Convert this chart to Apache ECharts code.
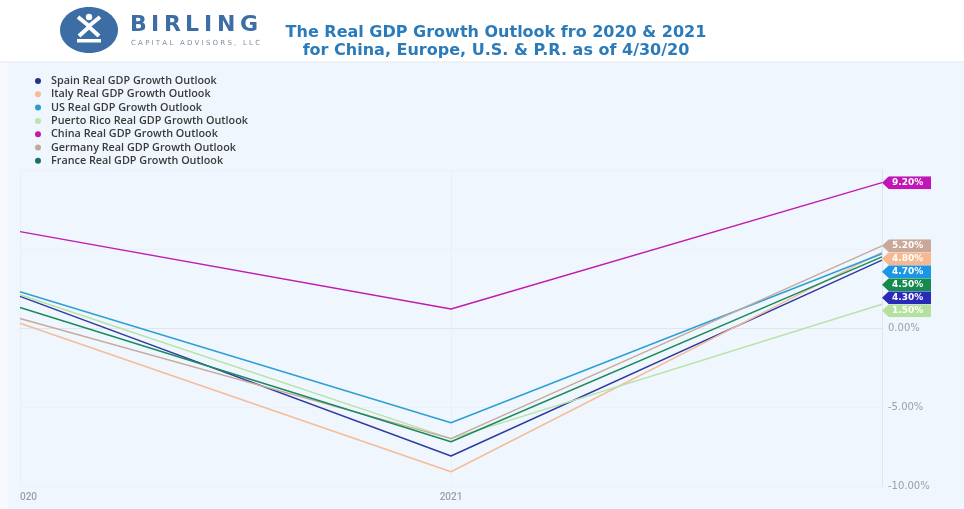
<!DOCTYPE html>
<html>
<head>
<meta charset="utf-8">
<script src="https://cdn.jsdelivr.net/npm/echarts@6/dist/echarts.min.js"></script>
<style>html,body{margin:0;padding:0;background:#fff;}#c{width:964px;height:509px;}</style>
</head>
<body>
<div id="c"></div>
<script>
const categories = ['2020', '2021', '2022'];
const xTickLabels = ['020', '2021', ''];
const seriesNames = [
  'Spain Real GDP Growth Outlook',
  'Italy Real GDP Growth Outlook',
  'US Real GDP Growth Outlook',
  'Puerto Rico Real GDP Growth Outlook',
  'China Real GDP Growth Outlook',
  'Germany Real GDP Growth Outlook',
  'France Real GDP Growth Outlook'
];
const spain = [2.0, -8.1, 4.3];
const italy = [0.3, -9.1, 4.8];
const us = [2.3, -6.0, 4.7];
const puertoRico = [2.1, -7.0, 1.5];
const china = [6.1, 1.2, 9.2];
const germany = [0.6, -7.0, 5.2];
const france = [1.3, -7.2, 4.5];
const seriesValues = [spain, italy, us, puertoRico, china, germany, france];
const lineColors = ['#2f3aa3', '#f6bb98', '#2b9fd6', '#b6e3a8', '#c01cb0', '#c6aa9c', '#1b8a5c'];
const legendColors = ['#26318f', '#f5bc94', '#2b9bd0', '#b7e4b0', '#c21aa7', '#c0a99c', '#1d6e66'];
const tagColors = ['#2a2ab8', '#f7b890', '#1a96e4', '#b4e29e', '#c016b8', '#c8a898', '#148a4e'];
const yTicks = { min: -10, max: 10, interval: 5 };

function tagImage(color) {
  const svg = '<svg xmlns="http://www.w3.org/2000/svg" width="50" height="13" viewBox="0 0 50 13" preserveAspectRatio="none">' +
    '<path d="M0 6.5 L7 0 L50 0 L50 13 L7 13 Z" fill="' + color + '"/></svg>';
  return 'data:image/svg+xml;charset=utf-8,' + encodeURIComponent(svg);
}

const chart = echarts.init(document.getElementById('c'), null, { renderer: 'canvas' });

const series = seriesNames.map((name, i) => ({
  name: name,
  type: 'line',
  data: seriesValues[i],
  symbol: 'none',
  smooth: false,
  lineStyle: { width: 1.5, color: lineColors[i] },
  itemStyle: { color: legendColors[i] },
  endLabel: {
    show: true,
    distance: 0,
    formatter: p => p.value.toFixed(2) + '%',
    color: '#fff',
    fontSize: 9,
    fontWeight: 'bold',
    fontFamily: 'DejaVu Sans',
    lineHeight: 11,
    width: 35,
    padding: [1, 4, 1, 10],
    backgroundColor: { image: tagImage(tagColors[i]) }
  },
  labelLayout: { moveOverlap: 'shiftY' },
  emphasis: { disabled: true },
  animation: false
}));

const option = {
  backgroundColor: '#f0f6fd',
  animation: false,
  title: {
    text: 'The Real GDP Growth Outlook fro 2020 & 2021\nfor China, Europe, U.S. & P.R. as of 4/30/20',
    left: 491,
    top: 19,
    textAlign: 'center',
    textStyle: {
      color: '#2b7bbb',
      fontSize: 16,
      fontWeight: 'bold',
      fontFamily: 'DejaVu Sans',
      lineHeight: 18
    }
  },
  legend: {
    orient: 'vertical',
    left: 30,
    top: 70,
    itemWidth: 6,
    itemHeight: 6,
    itemGap: 1.3,
    icon: 'circle',
    data: seriesNames,
    textStyle: { fontSize: 10.8, lineHeight: 12, color: '#3a3a3a', fontWeight: 600, fontFamily: 'Open Sans', padding: [0, 0, 0, 5] }
  },
  grid: { left: 20, right: 82, top: 170, bottom: 23, containLabel: false },
  xAxis: {
    type: 'category',
    data: categories,
    boundaryGap: false,
    axisLine: { show: true, lineStyle: { color: '#dfe6ee' } },
    axisTick: { show: false },
    splitLine: { show: true, lineStyle: { color: '#e9eff7' } },
    axisLabel: {
      color: '#9aa0a8',
      fontSize: 10,
      fontFamily: 'Roboto',
      fontWeight: 500,
      margin: 6,
      alignMinLabel: 'left',
      formatter: (v, idx) => xTickLabels[idx]
    }
  },
  yAxis: {
    type: 'value',
    position: 'right',
    min: yTicks.min,
    max: yTicks.max,
    interval: yTicks.interval,
    axisLine: { show: true, lineStyle: { color: '#dfe6ee' } },
    axisTick: { show: false },
    splitLine: { show: true, lineStyle: { color: '#ebf1f8' } },
    axisLabel: {
      color: '#9aa0a8',
      fontSize: 10,
      fontFamily: 'DejaVu Sans',
      margin: 6,
      formatter: v => (v <= 0 ? v.toFixed(2) + '%' : '')
    }
  },
  graphic: [
    { type: 'rect', z: -1, shape: { x: 0, y: 0, width: 964, height: 62 }, style: { fill: '#ffffff' } },
    { type: 'rect', z: -1, shape: { x: 0, y: 62, width: 8, height: 447 }, style: { fill: '#f7f9fc' } },
    { type: 'line', shape: { x1: 0, y1: 62, x2: 964, y2: 62 }, style: { stroke: '#e2e8ef', lineWidth: 1 } },
    { type: 'ellipse', shape: { cx: 89, cy: 30, rx: 29, ry: 23 }, style: { fill: '#3d6da5' } },
    { type: 'circle', shape: { cx: 89, cy: 17, r: 3.2 }, style: { fill: '#fff' } },
    { type: 'polyline', shape: { points: [[78, 17], [89, 26], [100, 17]] }, style: { stroke: '#fff', lineWidth: 4, fill: null } },
    { type: 'polyline', shape: { points: [[79, 36], [89, 27], [99, 36]] }, style: { stroke: '#fff', lineWidth: 4, fill: null } },
    { type: 'rect', shape: { x: 77, y: 39, width: 24, height: 3.5 }, style: { fill: '#fff' } },
    ...['B', 'I', 'R', 'L', 'I', 'N', 'G'].map((ch, k) => ({
      type: 'text',
      style: {
        x: 130 + [0, 21, 34, 55, 74, 87, 110][k],
        y: 14,
        text: ch,
        fill: '#3d6da5',
        font: 'bold 22px "DejaVu Sans"'
      }
    })),
    { type: 'text', style: { x: 131, y: 40, text: 'C A P I T A L   A D V I S O R S ,   L L C', fill: '#7d8fa6', font: '7px "DejaVu Sans"' } }
  ],
  series: series
};

chart.setOption(option);
</script>
</body>
</html>
